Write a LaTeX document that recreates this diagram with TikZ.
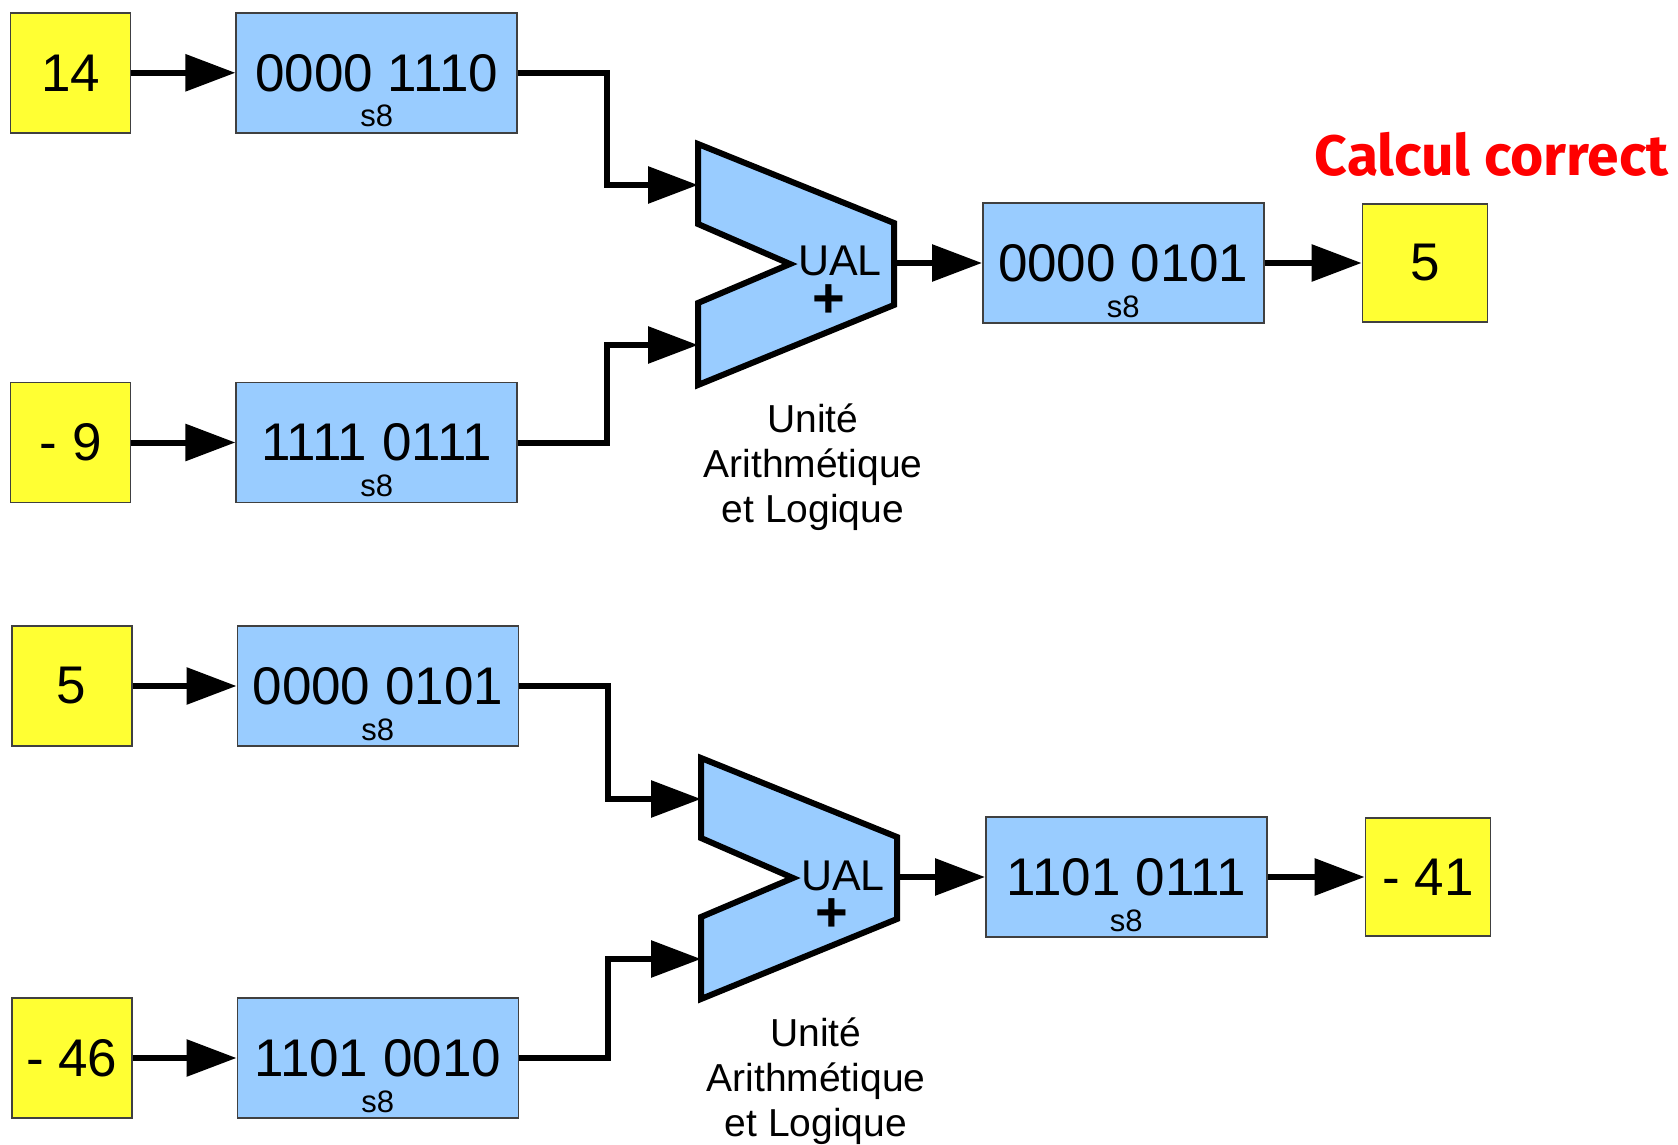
\documentclass[tikz,border=0pt]{standalone}
\usepackage{fontspec}
\setmainfont{Liberation Sans}
\newfontfamily\calcfont{Fira Sans}
\usetikzlibrary{arrows.meta,positioning}
\definecolor{regblue}{RGB}{153,204,255}
\definecolor{valyellow}{RGB}{255,255,51}

\begin{document}
\begin{tikzpicture}[
  x=0.5pt, y=-0.5pt,
  node distance=52pt,
  every node/.style={inner sep=0pt},
  val/.style={draw=black!75, line width=0.8pt, fill=valyellow,
              minimum width=60pt, minimum height=60pt,
              font=\fontsize{26.5}{30}\selectfont},
  res/.style={val, minimum width=62.5pt, minimum height=59pt},
  reg/.style={draw=black!75, line width=0.8pt, fill=regblue,
              minimum width=140.5pt, minimum height=60pt,
              font=\fontsize{26.5}{30}\selectfont,
              label={[anchor=base, yshift=3.3pt, font=\fontsize{15.5}{18}\selectfont]south:s8}},
  ual/.style={draw, line width=3pt, fill=regblue, line join=miter},
  arr/.style={-{Triangle[length=25pt, width=18pt]}, line width=3pt},
  ualtxt/.style={anchor=base, font=\fontsize{21.5}{24}\selectfont},
  plus/.style={font=\fontsize{28}{30}\selectfont\bfseries},
  caption/.style={anchor=base, align=center, font=\fontsize{19.5}{22.5}\selectfont}
]
\useasboundingbox (0,0) rectangle (1678,1145);

% --- 14 + (-9)
\node[val] (n14) at (70.6,72.8) {14};
\node[reg, right=of n14] (r14) {0000 1110};
\node[val] (n9) at (70.6,442.5) {- 9};
\node[reg, right=of n9] (r9) {1111 0111};

\draw[ual] (698,144) -- (894,223) -- (894,305) -- (698,385) -- (698,303)
  -- (790,264) -- (698,224) -- cycle;
\coordinate (ua1) at (698,185);
\coordinate (ua2) at (698,345);
\coordinate (uaout) at (894,263);
\node[ualtxt] (ual1) at (840,276) {UAL};
\node[plus] (plus1) at (828.5,301) {+};
\node[caption] (cap1) at (813,522) {Unité\\Arithmétique\\et Logique};

\node[reg, right=44pt of uaout] (r5) {0000 0101};
\node[res, right=48.5pt of r5] (n5) {5};
\node[anchor=base, text=red, font=\calcfont\bfseries\fontsize{28.5}{30}\selectfont]
  (ok) at (1491.7,176) {Calcul correct};

\draw[arr] (n14) -- (r14);
\draw[arr] (n9) -- (r9);
\draw[arr] (r14.east) -- ++(89,0) |- (ua1);
\draw[arr] (r9.east) -- ++(89,0) |- (ua2);
\draw[arr] (uaout) -- (r5);
\draw[arr] (r5) -- (n5);

% --- 5 + (-46)
\node[val] (n5b) at (71.7,686) {5};
\node[reg, right=of n5b] (r5b) {0000 0101};
\node[val] (n46) at (71.7,1058) {- 46};
\node[reg, right=of n46] (r46) {1101 0010};

\draw[ual] (701,758) -- (897,837) -- (897,919) -- (701,999) -- (701,917)
  -- (793,878) -- (701,838) -- cycle;
\coordinate (ub1) at (701,799);
\coordinate (ub2) at (701,959);
\coordinate (ubout) at (897,877);
\node[ualtxt] (ual2) at (843,890) {UAL};
\node[plus] (plus2) at (831.5,915) {+};
\node[caption] (cap2) at (816,1136) {Unité\\Arithmétique\\et Logique};

\node[reg, right=44pt of ubout] (r41) {1101 0111};
\node[res, right=48.5pt of r41] (n41) {- 41};

\draw[arr] (n5b) -- (r5b);
\draw[arr] (n46) -- (r46);
\draw[arr] (r5b.east) -- ++(89,0) |- (ub1);
\draw[arr] (r46.east) -- ++(89,0) |- (ub2);
\draw[arr] (ubout) -- (r41);
\draw[arr] (r41) -- (n41);

\end{tikzpicture}
\end{document}
